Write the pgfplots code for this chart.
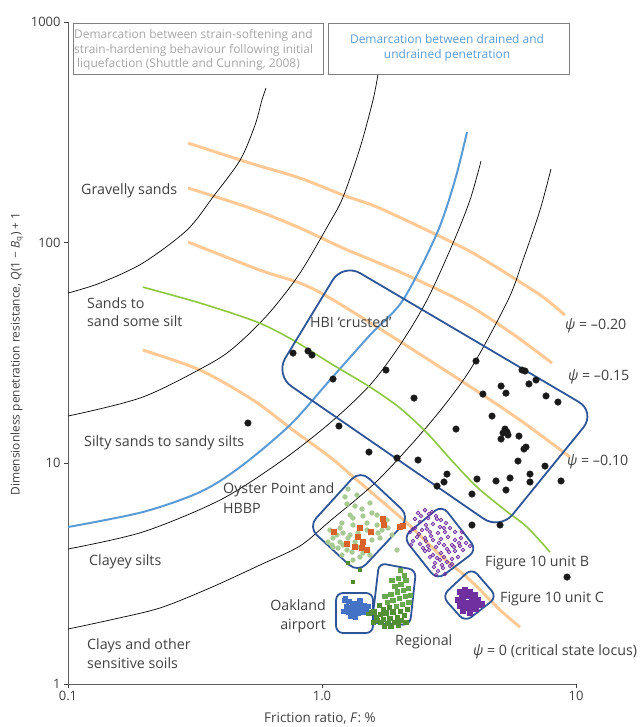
\documentclass[border=0pt]{standalone}
\usepackage{pgfplots}
\pgfplotsset{compat=1.18}
\usepackage{fontspec}
\setmainfont{Open Sans}
\definecolor{txt}{HTML}{404040}
\definecolor{orng}{HTML}{FFC995}
\definecolor{bl}{HTML}{5B9BD5}
\definecolor{grn}{HTML}{8DC63F}
\definecolor{bx}{HTML}{2E5597}
\definecolor{ored}{HTML}{D9622B}
\definecolor{lgrn}{HTML}{A8CB94}
\definecolor{purp}{HTML}{7030A0}
\definecolor{rgrn}{HTML}{6AA84F}
\definecolor{dgrn}{HTML}{4E8A2E}
\definecolor{oak}{HTML}{4472C4}
\definecolor{gr}{HTML}{A6A6A6}
\definecolor{bord}{HTML}{7F7F7F}
\newcommand{\lf}{\fontsize{14.3}{16}\selectfont}
\newcommand{\tf}{\fontsize{13}{15}\selectfont}
\begin{document}
\begin{tikzpicture}[x=1bp,y=1bp]
\useasboundingbox (-68,-43) rectangle (576,684);
\begin{axis}[at={(0,0)},anchor=south west,scale only axis,width=508bp,height=662bp,
 xmode=log,ymode=log,xmin=0.1,xmax=10,ymin=1,ymax=1000,
 axis lines=left,axis line style={-,color=txt!85,line width=0.8pt},
 tick align=outside,major tick length=4bp,xminorticks=false,yminorticks=false,
 xtick={0.1,1,10},xticklabels={0.1,1.0,10},ytick={1,10,100,1000},yticklabels={1,10,100,1000},
 tick style={color=txt,line width=0.6pt},
 ticklabel style={font=\tf,text=txt},
 /pgf/number format/assume math mode=true,
 clip=false]
% psi contours (orange)
\addplot[orng,line width=3pt,smooth] coordinates {(0.297,282.7)(0.521,229.4)(0.819,196.2)(1.21,164.3)(1.647,145.0)(2.735,110.5)(3.931,89.7)(5.857,67.7)(7.418,56.7)(9.05,47.0)};
\addplot[orng,line width=3pt,smooth] coordinates {(0.297,176.8)(0.521,143.5)(0.819,116.5)(1.21,94.5)(2.028,73.6)(3.591,53.8)(5.499,39.35)(8.044,28.48)};
\addplot[orng,line width=3pt,smooth] coordinates {(0.297,100.6)(0.570,75.1)(0.819,65.6)(1.075,56.1)(1.903,37.35)(3.494,23.85)(6.018,15.71)(9.47,10.68)};
\addplot[orng,line width=3pt,smooth] coordinates {(0.197,32.6)(0.331,26.47)(0.535,19.36)(0.769,14.15)(1.075,10.68)(1.373,8.40)(2.161,5.364)(2.915,3.842)(3.825,2.959)(5.022,2.164)(6.018,1.813)};
% soil zone boundaries (black)
\addplot[black,line width=0.7pt,smooth] coordinates {(0.1,59.1)(0.1337,65.6)(0.197,80.8)(0.294,114.0)(0.372,160.9)(0.476,236.7)(0.545,341.2)(0.580,442.7)(0.602,501.8)};
\addplot[black,line width=0.7pt,smooth] coordinates {(0.1,16.38)(0.197,19.97)(0.372,28.77)(0.476,35.44)(0.624,48.47)(0.819,72.8)(1.075,124.0)(1.21,160.9)(1.411,268.3)(1.588,442.7)(1.662,580.6)};
\addplot[black,line width=0.7pt,smooth] coordinates {(0.1,4.09)(0.197,4.884)(0.397,6.819)(0.683,10.14)(1.075,15.23)(1.545,22.63)(2.028,34.36)(2.591,54.95)(3.28,99.6)(3.825,156.0)(4.227,234.2)};
\addplot[black,line width=0.7pt,smooth] coordinates {(0.1,1.775)(0.1464,1.95)(0.230,2.21)(0.362,2.723)(0.570,3.461)(0.819,4.221)(1.075,5.478)(1.662,8.40)(2.662,15.23)(3.825,26.47)(5.40,54.95)(6.184,83.4)(7.217,140.5)(7.97,215.6)};
% drained / undrained (blue)
\addplot[bl,line width=2pt,smooth] coordinates {(0.1,5.144)(0.197,6.016)(0.331,7.413)(0.476,9.62)(0.748,14.91)(1.075,23.85)(1.545,38.14)(2.084,54.95)(2.837,110.5)(3.339,192.1)(3.723,317.0)};
% strain-softening demarcation (green)
\addplot[grn,line width=1.6pt,smooth] coordinates {(0.197,62.9)(0.331,53.25)(0.555,43.68)(0.769,36.2)(1.075,28.48)(1.545,22.17)(2.028,17.81)(2.591,13.72)(3.28,10.14)(4.076,7.81)(5.254,6.14)(6.414,5.144)(7.90,3.964)};
% group outlines
\draw[bx,line width=1.8pt,rounded corners=20bp] (axis cs:1.21,80.8) -- (axis cs:11.98,17.08) -- (axis cs:5.022,4.986) -- (axis cs:0.653,25.13) -- cycle;
\draw[bx,line width=1.8pt,rounded corners=12bp] (axis cs:0.881,5.144) -- (axis cs:1.411,9.32) -- (axis cs:2.221,5.711) -- (axis cs:1.386,3.184) -- cycle;
\draw[bx,line width=1.8pt,rounded corners=9bp] (axis cs:2.084,4.636) -- (axis cs:2.968,6.471) -- (axis cs:4.076,4.047) -- (axis cs:2.837,2.959) -- cycle;
\draw[bx,line width=1.8pt,rounded corners=8bp] (axis cs:2.968,2.504) -- (axis cs:3.895,3.354) -- (axis cs:4.887,2.479) -- (axis cs:3.656,1.91) -- cycle;
\draw[bx,line width=1.8pt,rounded corners=7bp] (axis cs:1.677,3.534) -- (axis cs:2.345,3.285) -- (axis cs:2.221,1.851) -- (axis cs:1.573,1.889) -- cycle;
\draw[bx,line width=1.8pt,rounded corners=7bp] (axis cs:1.136,2.585) -- (axis cs:1.588,2.585) -- (axis cs:1.588,1.702) -- (axis cs:1.136,1.702) -- cycle;
% Oyster Point light green
\addplot[only marks,mark=*,mark size=2.4pt,color=lgrn] coordinates {(1.266,7.65)(1.254,6.54)(1.349,6.40)(1.437,6.21)(1.545,6.61)(1.573,5.96)(1.450,5.77)(1.647,5.83)(1.324,5.65)(1.198,5.364)(1.324,5.253)(1.504,5.364)(1.723,4.986)(1.662,4.832)(1.146,4.732)(1.21,4.832)(1.290,4.732)(1.386,4.832)(1.056,4.399)(1.105,4.587)(1.178,4.399)(1.266,4.587)(1.349,4.399)(1.573,4.493)(1.692,4.587)(1.105,4.176)(1.254,4.047)(1.313,3.964)(1.373,4.176)(1.545,3.842)(1.450,3.923)(1.198,3.842)(1.974,4.047)(1.819,5.091)(1.886,4.732)(1.21,4.264)(1.156,4.132)(1.411,3.762)(1.324,3.646)(1.290,5.83)(1.095,4.264)(1.647,5.253)(1.803,5.535)(1.504,4.986)(1.178,5.091)(1.232,7.04)(1.373,7.18)(1.075,4.986)};
\addplot[only marks,mark=square*,mark size=2.6pt,color=ored] coordinates {(1.739,5.593)(1.755,5.253)(2.028,5.144)(2.084,5.198)(1.411,5.091)(1.559,4.884)(1.115,4.884)(1.386,4.636)(1.450,4.399)(1.254,4.308)(1.504,4.047)(1.437,4.132)(1.349,4.176)};
\addplot[only marks,mark=square*,mark size=1.6pt,color=dgrn] coordinates {(1.266,3.534)(1.324,2.899)(1.411,3.285)};
% Figure 10 unit B
\addplot[only marks,mark=o,mark size=1.8pt,color=purp,line width=0.9pt] coordinates {(2.388,5.96)(2.544,6.14)(2.711,6.016)(2.615,5.65)(2.811,5.77)(2.941,5.535)(2.431,5.42)(2.567,5.253)(2.735,5.309)(2.915,5.144)(3.077,5.364)(3.191,5.091)(3.339,4.884)(3.050,4.884)(2.862,4.832)(2.662,4.884)(2.476,4.986)(2.324,5.091)(2.221,4.884)(2.366,4.636)(2.544,4.587)(2.735,4.493)(2.941,4.54)(3.133,4.636)(3.339,4.493)(3.526,4.587)(3.689,4.353)(3.494,4.221)(3.249,4.264)(3.022,4.264)(2.811,4.176)(2.615,4.221)(2.431,4.308)(2.282,4.445)(2.544,4.005)(2.735,3.842)(2.941,3.923)(3.162,3.964)(3.339,4.005)(2.915,3.646)(3.105,3.571)(2.786,3.534)(2.995,3.354)(3.191,3.425)(2.862,3.251)(3.050,3.150)(2.662,3.762)(2.498,4.132)(3.430,3.762)(2.324,5.593)(3.558,4.884)(3.825,4.221)(2.241,4.264)(3.249,3.684)(2.811,3.118)(2.453,5.77)(2.638,5.89)(2.837,5.593)(3.022,5.091)(2.591,5.04)(2.409,4.782)(2.686,4.683)(2.888,4.353)(3.105,4.09)(3.309,4.176)(3.591,4.047)(2.638,4.047)(2.837,3.723)(3.022,3.762)(3.249,3.498)(2.968,3.461)(2.761,3.389)(3.462,4.353)(2.282,5.04)(2.567,4.445)};
% Figure 10 unit C
\addplot[only marks,mark=square*,mark size=2.4pt,color=purp] coordinates {(3.494,2.612)(3.656,2.667)(3.825,2.612)(4.003,2.531)(3.558,2.479)(3.723,2.504)(3.895,2.453)(4.114,2.402)(3.591,2.352)(3.756,2.328)(3.931,2.304)(4.151,2.280)(3.494,2.256)(3.656,2.21)(3.825,2.187)(4.040,2.187)(4.265,2.304)(3.430,2.402)(3.591,2.142)(3.825,2.098)(3.689,2.585)(3.967,2.377)(3.526,2.304)(3.790,2.256)(4.076,2.328)};
% Regional
\addplot[only marks,mark=square*,mark size=2.3pt,color=rgrn] coordinates {(2.028,3.285)(2.103,3.118)(1.992,3.022)(2.141,2.959)(2.046,2.839)(1.938,2.780)(2.181,2.723)(2.084,2.667)(1.974,2.612)(1.869,2.557)(2.122,2.504)(2.010,2.453)(1.903,2.402)(1.803,2.352)(2.200,2.352)(2.065,2.304)(1.956,2.256)(2.221,2.531)(1.770,2.504)(1.886,2.959)};
\addplot[only marks,mark=square*,mark size=2.3pt,color=dgrn!85!rgrn] coordinates {(1.836,2.233)(1.739,2.187)(2.161,2.187)(2.028,2.142)(1.903,2.120)(1.786,2.098)(1.692,2.076)(2.103,2.054)(1.974,2.012)(1.852,1.991)(1.739,1.970)(1.647,1.95)(1.938,1.91)(1.819,1.889)(1.707,1.91)(1.632,2.012)(1.677,2.280)(1.602,2.120)(2.046,1.95)(2.141,1.91)(1.755,1.832)(1.869,1.832)(1.992,1.851)(1.588,1.91)(1.531,2.098)};
% Oakland airport
\addplot[only marks,mark=square*,mark size=2.3pt,color=oak] coordinates {(1.221,2.402)(1.277,2.377)(1.337,2.328)(1.398,2.304)(1.463,2.280)(1.517,2.256)(1.243,2.256)(1.301,2.233)(1.361,2.21)(1.424,2.187)(1.490,2.187)(1.21,2.142)(1.266,2.120)(1.324,2.142)(1.386,2.098)(1.450,2.120)(1.290,2.033)(1.349,2.012)(1.232,2.453)(1.411,2.402)(1.313,2.280)(1.373,2.164)(1.437,2.256)(1.254,2.187)(1.337,2.076)};
% HBI crusted
\addplot[only marks,mark=*,mark size=3.3pt,color=black!90] coordinates {(0.769,31.6)(0.881,32.3)(0.913,30.95)(1.105,24.1)(1.786,26.47)(2.303,19.76)(1.166,14.76)(1.531,11.25)(1.974,10.57)(2.388,10.35)(3.37,14.30)(4.04,29.08)(4.30,20.6)(5.07,22.4)(5.30,20.8)(4.67,16.38)(6.13,26.47)(6.30,26.2)(6.53,22.9)(6.96,23.85)(7.62,20.2)(8.49,18.96)(5.254,14.30)(5.35,13.86)(5.16,13.72)(5.40,13.44)(5.07,12.89)(5.964,13.29)(6.356,11.85)(6.24,11.61)(5.91,10.24)(7.55,9.72)(6.59,8.94)(6.59,8.23)(5.499,8.58)(4.842,8.32)(5.30,7.57)(4.076,8.49)(3.895,7.26)(3.105,8.94)(3.022,8.23)(2.837,7.89)(8.73,8.32)(0.511,15.23)(9.22,3.053)(5.022,5.253)(3.895,5.253)};
\end{axis}
% callout boxes
\draw[bord,line width=0.6pt] (5,661) rectangle (255,610);
\draw[bord,line width=0.6pt] (260,661) rectangle (501,610);
\begin{scope}[every node/.style={font=\fontsize{12}{14}\selectfont,inner sep=0pt}]
\node[gr,anchor=west] at (6,649) {Demarcation between strain-softening and};
\node[gr,anchor=west] at (6,634) {strain-hardening behaviour following initial};
\node[gr,anchor=west] at (9,620) {liquefaction (Shuttle and Cunning, 2008)};
\node[bl] at (379,645) {Demarcation between drained and};
\node[bl] at (379,629) {undrained penetration};
\end{scope}
\begin{scope}[every node/.style={font=\lf,text=txt,inner sep=0pt}]
\node[anchor=west] at (13,493) {Gravelly sands};
\node[anchor=west] at (19,381) {Sands to};
\node[anchor=west] at (19,363) {sand some silt};
\node[anchor=west] at (16,241) {Silty sands to sandy silts};
\node[anchor=west] at (21,122) {Clayey silts};
\node[anchor=west] at (19,38) {Clays and other};
\node[anchor=west] at (19,21) {sensitive soils};
\node[anchor=west] at (155,194) {Oyster Point and};
\node[anchor=west] at (155,176) {HBBP};
\node[anchor=west] at (242,362) {HBI ‘crusted’};
\node[anchor=west] at (497,358) {\textit{ψ} = –0.20};
\node[anchor=west] at (500,307) {\textit{ψ} = –0.15};
\node[anchor=west] at (499,222) {\textit{ψ} = –0.10};
\node[anchor=west] at (417,121) {Figure 10 unit B};
\node[anchor=west] at (432,85) {Figure 10 unit C};
\node[anchor=west] at (405,32) {\textit{ψ} = 0 (critical state locus)};
\node[anchor=east] at (258,79) {Oakland};
\node[anchor=east] at (258,58) {airport};
\node[anchor=west] at (327,42) {Regional};
\node[font=\fontsize{13.5}{15}\selectfont] at (252,-34) {Friction ratio, \textit{F}: \%};
\node[rotate=90,font=\fontsize{12}{14}\selectfont] at (-51,330) {Dimensionless penetration resistance, \textit{Q}(1 − \textit{B}\textsubscript{q}) + 1};
\end{scope}
\end{tikzpicture}
\end{document}
